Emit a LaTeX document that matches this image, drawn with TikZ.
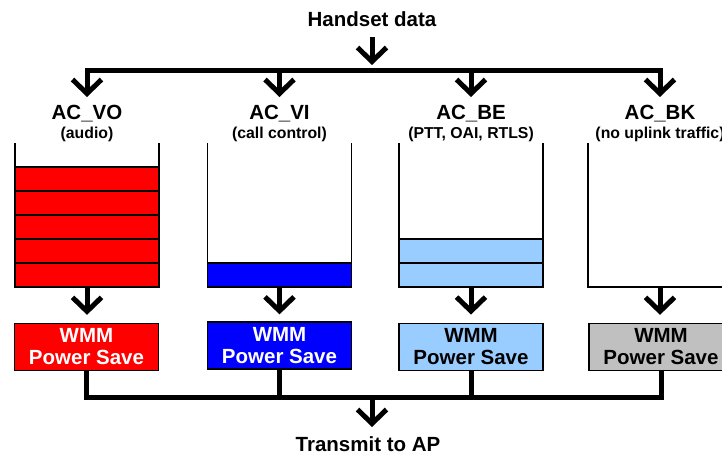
\documentclass[tikz,border=0pt]{standalone}
\usepackage{fontspec}
\setmainfont{Liberation Sans}
\usetikzlibrary{arrows.meta}
\definecolor{qred}{HTML}{FF0000}
\definecolor{qblue}{HTML}{0000FF}
\definecolor{qlight}{HTML}{99CCFF}
\definecolor{qgray}{HTML}{C0C0C0}
\begin{document}
\begin{tikzpicture}[x=1pt,y=-1pt,
  bigtxt/.style={font=\fontsize{20.5}{22}\selectfont\bfseries, inner sep=0pt},
  subtxt/.style={font=\fontsize{15.8}{18}\selectfont\bfseries, inner sep=0pt},
  thickln/.style={line width=5pt},
  arr/.style={line width=5pt, -{Straight Barb[length=14pt,width=29pt]}},
  wall/.style={line width=1.5pt},
  slot/.style={draw=black, line width=1.6pt},
  qbox/.style={minimum width=144pt, minimum height=144pt, inner sep=0pt},
  wmm/.style={draw=black, line width=1.3pt, minimum width=144pt, minimum height=47pt,
    inner sep=0pt, align=center, font=\fontsize{20.5}{22}\selectfont\bfseries}
]
\useasboundingbox (0,0) rectangle (722,454);
\fill[white] (0,0) rectangle (722,454);
\clip (0,0) rectangle (722,454);

% top
\node[bigtxt, anchor=base] (hs) at (372,26.7) {Handset data};
\coordinate (htip) at (372,65);
\draw[arr] ([yshift=-10pt]hs.south) -- (htip);

\coordinate (t1) at (87,71);
\coordinate (t2) at (279.5,71);
\coordinate (t3) at (471,71);
\coordinate (t4) at (660,71);
\draw[thickln, line cap=rect] (t1) -- (t4);
\coordinate (a1) at (87,97);
\coordinate (a2) at (279.5,97);
\coordinate (a3) at (471,97);
\coordinate (a4) at (660,97);
\draw[arr] (t1) -- (a1);
\draw[arr] (t2) -- (a2);
\draw[arr] (t3) -- (a3);
\draw[arr] (t4) -- (a4);

% labels
\node[bigtxt, anchor=base] (l1) at (87,120) {AC\_VO};
\node[bigtxt, anchor=base] (l2) at (279.5,120) {AC\_VI};
\node[bigtxt, anchor=base] (l3) at (471,120) {AC\_BE};
\node[bigtxt, anchor=base] (l4) at (660,120) {AC\_BK};
\node[subtxt, anchor=base] (s1) at (87,138.5) {(audio)};
\node[subtxt, anchor=base] (s2) at (279.5,138.5) {(call control)};
\node[subtxt, anchor=base] (s3) at (471,138.5) {(PTT, OAI, RTLS)};
\node[subtxt, anchor=base] (s4) at (660,138.5) {(no uplink traffic)};

% queues
\node[qbox] (q1) at (87,215) {};
\node[qbox] (q2) at (279.5,215) {};
\node[qbox] (q3) at (471,215) {};
\node[qbox] (q4) at (660,215) {};

\foreach \t in {167,191,215,239,263}
  \draw[slot, fill=qred] (15,\t) rectangle (159,\t+24);
\draw[slot, fill=qblue] (207.5,263) rectangle (351.5,287);
\foreach \t in {239,263}
  \draw[slot, fill=qlight] (399,\t) rectangle (543,\t+24);

\draw[wall] (q1.north west) -- (q1.south west) -- (q1.south east) -- (q1.north east);
\draw[wall] (q2.north west) -- (q2.south west) -- (q2.south east) -- (q2.north east);
\draw[wall] (q3.north west) -- (q3.south west) -- (q3.south east) -- (q3.north east);
\draw[wall] (q4.north west) -- (q4.south west) -- (q4.south east) -- (q4.north east);

% WMM boxes
\node[wmm, fill=qred, text=white] (b1) at (86.5,347) {WMM\\Power Save};
\node[wmm, fill=qblue, text=white] (b2) at (279.5,345.5) {WMM\\Power Save};
\node[wmm, fill=qlight, text=black] (b3) at (471,346.7) {WMM\\Power Save};
\node[wmm, fill=qgray, text=black] (b4) at (661,347) {WMM\\Power Save};

\draw[arr, shorten >=8pt] (q1.south) -- (q1.south |- b1.north);
\draw[arr, shorten >=7pt] (q2.south) -- (q2.south |- b2.north);
\draw[arr, shorten >=8pt] (q3.south) -- (q3.south |- b3.north);
\draw[arr, shorten >=8pt] (q4.south) -- (q4.south |- b4.north);

% bottom
\coordinate (bb) at (372,397);
\draw[thickln, line join=miter] (b1.south) |- (bb) -| (b4.south);
\draw[thickln] (b2.south) -- (b2.south |- bb);
\draw[thickln] (b3.south) -- (b3.south |- bb);
\coordinate (btip) at (372,427);
\draw[arr] (bb) -- (btip);
\node[bigtxt, anchor=base] (tr) at (368,451.7) {Transmit to AP};
\end{tikzpicture}
\end{document}
